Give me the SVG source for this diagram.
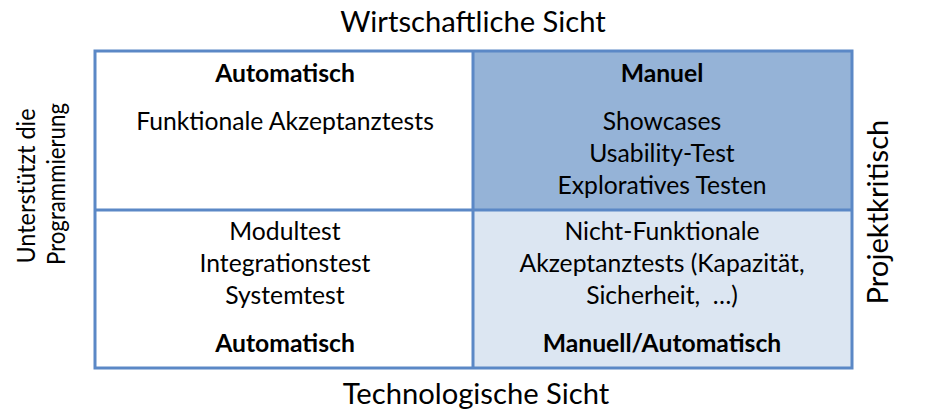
<svg xmlns="http://www.w3.org/2000/svg" width="932" height="414" viewBox="0 0 932 414">
  <style>
    text { font-family: Lato, "Open Sans", "Liberation Sans", sans-serif; fill: #000; text-anchor: middle; }
    .axis { font-size: 29.2px; }
    .side { font-size: 25px; }
    .cell { font-size: 24.7px; }
    .head { font-size: 24.7px; font-weight: bold; }
    .pre { white-space: pre; }
    .grid { stroke: #5b88c6; stroke-width: 3; }
  </style>

  <rect width="932" height="414" fill="#ffffff"/>

  <!-- quadrant fills and their labels -->
  <g id="quadrant-top-left">
    <rect x="95" y="51" width="378" height="159" fill="#ffffff"/>
    <text class="head" x="285" y="82">Automatisch</text>
    <text class="cell" x="285" y="130">Funktionale Akzeptanztests</text>
  </g>
  <g id="quadrant-top-right">
    <rect x="473" y="51" width="379" height="159" fill="#95b3d7"/>
    <text class="head" x="662" y="82">Manuel</text>
    <text class="cell" x="662" y="130">Showcases</text>
    <text class="cell" x="662" y="162">Usability-Test</text>
    <text class="cell" x="662" y="194">Exploratives Testen</text>
  </g>
  <g id="quadrant-bottom-left">
    <rect x="95" y="210" width="378" height="158" fill="#ffffff"/>
    <text class="cell" x="285" y="240">Modultest</text>
    <text class="cell" x="285" y="272">Integrationstest</text>
    <text class="cell" x="285" y="304">Systemtest</text>
    <text class="head" x="285" y="352">Automatisch</text>
  </g>
  <g id="quadrant-bottom-right">
    <rect x="473" y="210" width="379" height="158" fill="#dce6f2"/>
    <text class="cell" x="662" y="240">Nicht-Funktionale</text>
    <text class="cell" x="662" y="272">Akzeptanztests (Kapazität,</text>
    <text class="cell pre" x="662" y="304">Sicherheit,  …)</text>
    <text class="head" x="662" y="352">Manuell/Automatisch</text>
  </g>

  <!-- grid lines -->
  <g id="grid" class="grid" fill="none">
    <rect x="95" y="51" width="757" height="317"/>
    <line x1="473" y1="51" x2="473" y2="368"/>
    <line x1="95" y1="210" x2="852" y2="210"/>
  </g>

  <!-- axis labels -->
  <g id="axis-top"><text class="axis" x="473" y="32">Wirtschaftliche Sicht</text></g>
  <g id="axis-bottom"><text class="axis" x="476" y="404">Technologische Sicht</text></g>
  <g id="axis-left">
    <text class="side" transform="translate(35,186) rotate(-90)" textLength="155" lengthAdjust="spacingAndGlyphs">Unterstützt die</text>
    <text class="side" transform="translate(65,184) rotate(-90)" textLength="162" lengthAdjust="spacingAndGlyphs">Programmierung</text>
  </g>
  <g id="axis-right"><text class="axis" transform="translate(888,212) rotate(-90)">Projektkritisch</text></g>
</svg>
